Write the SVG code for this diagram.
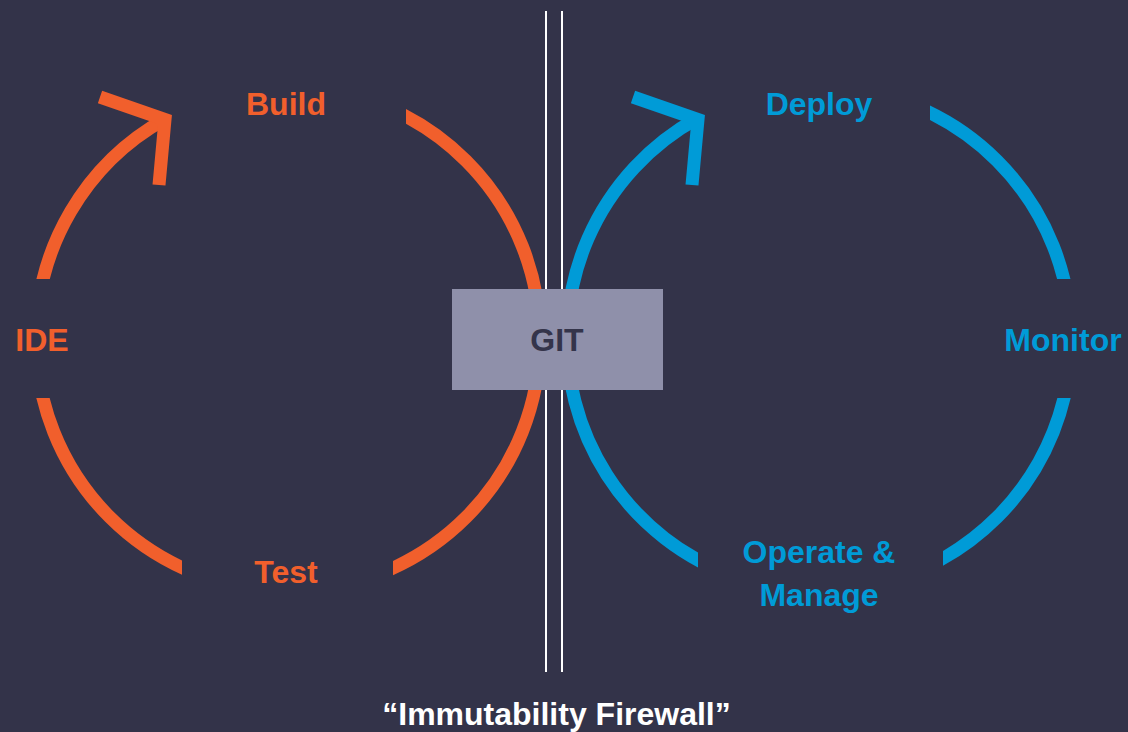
<svg xmlns="http://www.w3.org/2000/svg" width="1128" height="732" viewBox="0 0 1128 732">
<style>
.o{fill:none;stroke:#F15F2C;stroke-width:13}
.b{fill:none;stroke:#009BD7;stroke-width:13}
.arw{stroke-linejoin:miter;stroke-miterlimit:10;stroke-linecap:butt}
.fw{stroke:#FFFFFF;stroke-width:2}
text{font-family:"Liberation Sans",Arial,sans-serif;font-weight:bold;font-size:32px;text-anchor:middle}
.to{fill:#F15F2C}
.tb{fill:#009BD7}
.tw{fill:#FFFFFF}
.tg{fill:#34344A}
</style>
<defs>
<clipPath id="cA"><rect x="0" y="0" width="560" height="279"/></clipPath>
<clipPath id="cB"><path d="M406,0 H556 V732 H393 V339 H406 Z"/></clipPath>
<clipPath id="cC"><rect x="0" y="398" width="182" height="334"/></clipPath>
<clipPath id="cD"><path d="M560,0 H819 V339 H698 V732 H560 Z"/></clipPath>
<clipPath id="cE"><rect x="930" y="0" width="198" height="279"/></clipPath>
<clipPath id="cF"><rect x="943" y="398" width="185" height="334"/></clipPath>
</defs>
<rect x="0" y="0" width="1128" height="732" fill="#333349"/>
<g id="connectors">
<path class="o" d="M165,119.1 A252,252 0 0 0 36,339" clip-path="url(#cA)"/>
<polyline class="o arw" points="100,97 165,119.5 159,185"/>
<circle class="o" cx="288" cy="339" r="252" clip-path="url(#cB)"/>
<circle class="o" cx="288" cy="339" r="252" clip-path="url(#cC)"/>
<path class="b" d="M698,118 A252,252 0 0 0 819,591" clip-path="url(#cD)"/>
<polyline class="b arw" points="633,97 698,119.5 692,185"/>
<circle class="b" cx="819" cy="339" r="252" clip-path="url(#cE)"/>
<circle class="b" cx="819" cy="339" r="252" clip-path="url(#cF)"/>
</g>
<g id="firewall">
<line class="fw" x1="546" y1="11" x2="546" y2="672"/>
<line class="fw" x1="562" y1="11" x2="562" y2="672"/>
<text class="tw" x="556.5" y="725">“Immutability Firewall”</text>
</g>
<g id="git">
<rect x="452" y="289" width="211" height="101" fill="#8F90AA"/>
<text class="tg" x="557" y="351">GIT</text>
</g>
<g id="ide"><text class="to" x="42" y="351">IDE</text></g>
<g id="build"><text class="to" x="286" y="115">Build</text></g>
<g id="test"><text class="to" x="286" y="583">Test</text></g>
<g id="deploy"><text class="tb" x="819" y="115">Deploy</text></g>
<g id="monitor"><text class="tb" x="1063" y="351">Monitor</text></g>
<g id="operate"><text class="tb" x="819" y="563">Operate &amp;</text><text class="tb" x="819" y="606">Manage</text></g>
</svg>
